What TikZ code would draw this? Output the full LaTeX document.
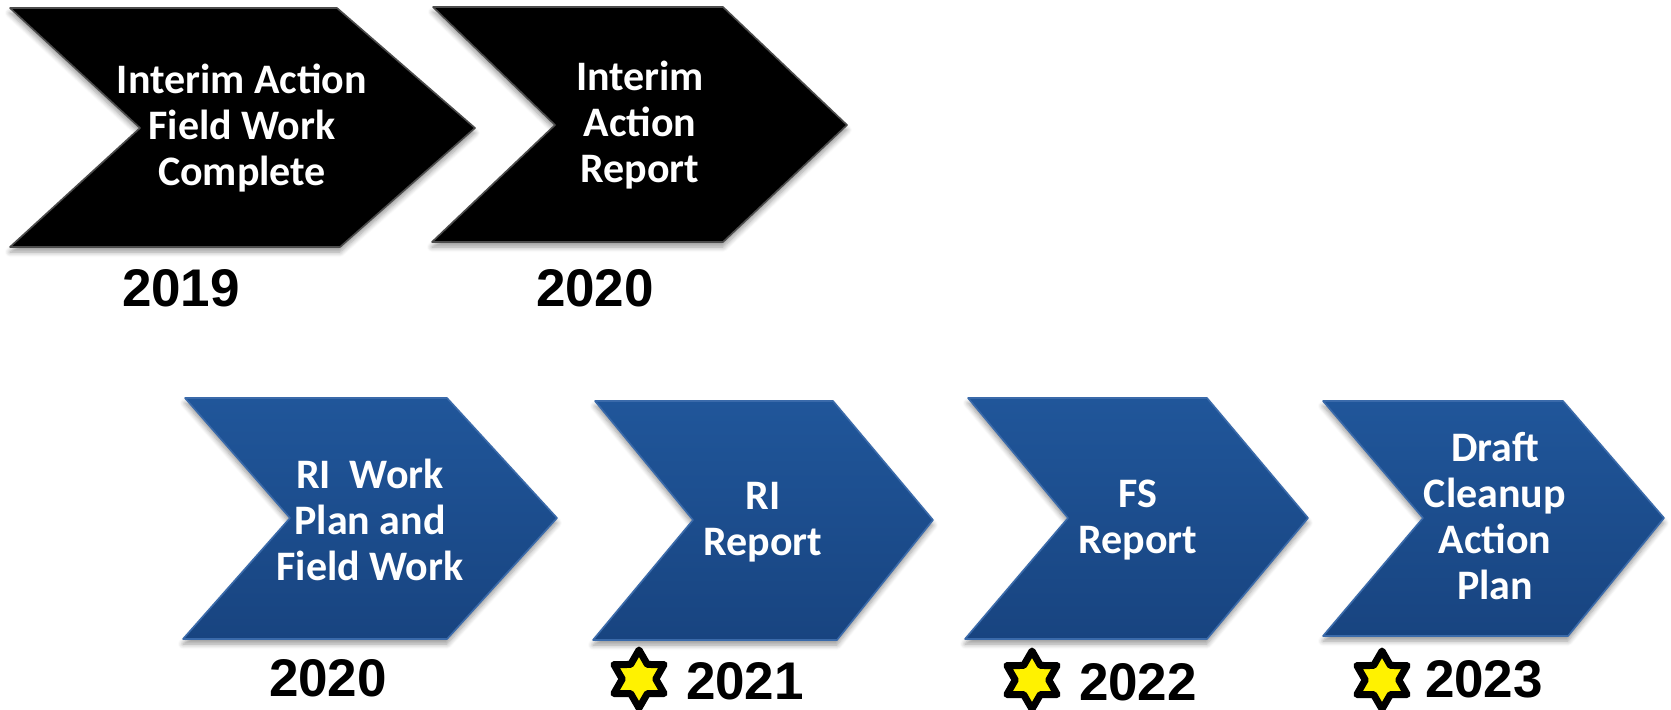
\documentclass[tikz,border=0pt]{standalone}
\usepackage{fontspec}
\setmainfont{Carlito}
\newfontfamily\yearfont{Liberation Sans}
\usepackage{tikz}
\usetikzlibrary{shapes.geometric, shadows.blur}
\definecolor{bluetop}{RGB}{32,86,154}
\definecolor{bluebot}{RGB}{24,68,128}
\definecolor{blueedge}{RGB}{58,106,170}

\begin{document}
\begin{tikzpicture}[x=0.5pt,y=-0.5pt,
    sh/.style={blur shadow={shadow xshift=0pt,shadow yshift=-2.5pt,shadow blur steps=6,shadow blur radius=2.5pt,shadow opacity=40}},
    blk/.style={sh,fill=black,draw=black!70,line width=0.8pt,line join=round},
    blu/.style={sh,top color=bluetop,bottom color=bluebot,draw=blueedge,line width=0.8pt,line join=round},
    lbl/.style={text=white,align=center,font=\bfseries\fontsize{21}{23}\selectfont},
    yr/.style={inner sep=0pt,font=\yearfont\bfseries\fontsize{26.5}{30}\selectfont},
    ystar/.style={star,star points=6,star point ratio=1.73,minimum size=29pt,inner sep=0pt,fill=yellow,draw=black,line width=3.5pt,line join=round}]
    \useasboundingbox (0,0) rectangle (1671,709);
    % black chevrons
    \filldraw[blk] (10,8)--(337,8)--(475,128)--(340,247)--(10,247)--(140,128)--cycle;
    \filldraw[blk] (433,7)--(723,7)--(847,125)--(723,242)--(432,242)--(555,125)--cycle;
    % blue chevrons
    \filldraw[blu] (185,398)--(447,398)--(557,518)--(447,639)--(183,639)--(290,518)--cycle;
    \filldraw[blu] (595,401)--(833,401)--(933,520)--(837,640)--(593,640)--(693,520)--cycle;
    \filldraw[blu] (968,398)--(1207,398)--(1308,518)--(1207,639)--(965,639)--(1068,518)--cycle;
    \filldraw[blu] (1323,401)--(1563,401)--(1664,518)--(1568,636)--(1323,636)--(1423,518)--cycle;
    % labels
    \node[lbl] (iafw) at (242,128) {Interim Action\\Field Work\\Complete};
    \node[lbl] (iar) at (640,125) {Interim\\Action\\Report};
    \node[lbl] (riwp) at (370,520) {RI\ \ Work\\Plan and\\Field Work};
    \node[lbl] (rir) at (763,522) {RI\\Report};
    \node[lbl] (fsr) at (1138,520) {FS\\Report};
    \node[lbl] (dcap) at (1495,516) {Draft\\Cleanup\\Action\\Plan};
    % years
    \node[yr] (y2019) at (181,288) {2019};
    \node[yr] (y2020a) at (595,288) {2020};
    \node[yr] (y2020b) at (328,678) {2020};
    \node[yr] (y2021) at (745,681) {2021};
    \node[yr] (y2022) at (1138,682) {2022};
    \node[yr] (y2023) at (1484,679) {2023};
    % stars
    \node[ystar] (s2021) at (639,679) {};
    \node[ystar] (s2022) at (1032,680) {};
    \node[ystar] (s2023) at (1382,680) {};
\end{tikzpicture}
\end{document}
